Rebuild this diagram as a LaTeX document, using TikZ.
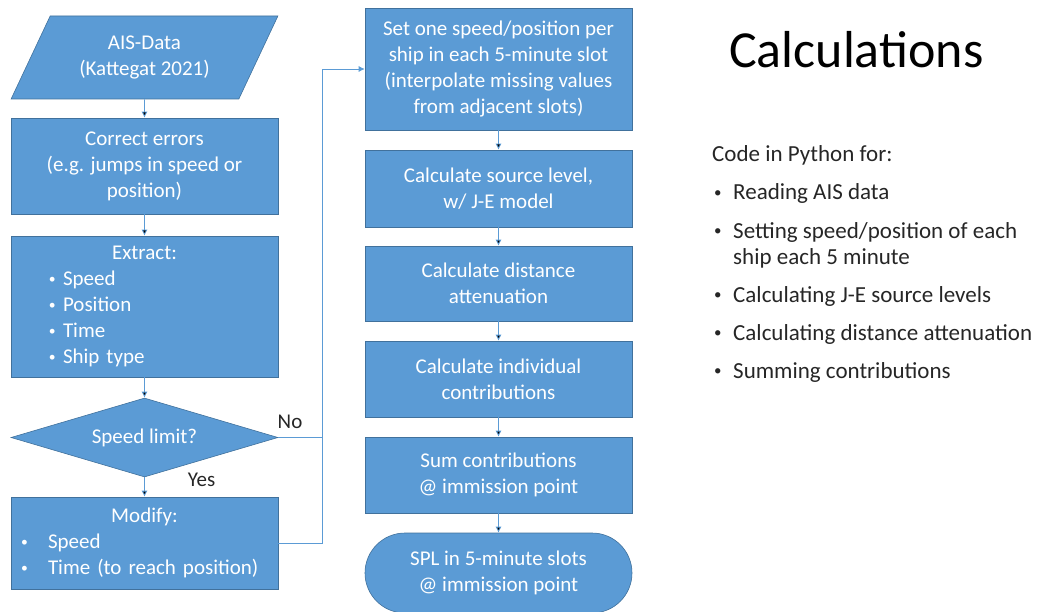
\documentclass[tikz,border=0pt]{standalone}
\usepackage{fontspec}
\setmainfont{Carlito}
\usetikzlibrary{arrows.meta}
\usetikzlibrary{shapes.geometric}
\usetikzlibrary{calc}
\definecolor{boxblue}{HTML}{5B9BD5}
\definecolor{boxline}{HTML}{41719C}
\definecolor{inktext}{HTML}{262626}
\newcommand{\smallbul}{\raisebox{0.12em}{\scalebox{0.65}{\textbullet}}}

\begin{document}
\begin{tikzpicture}[x=1pt,y=-1pt,>={Latex[length=6pt,width=6pt]},
    block/.style={draw=boxline,line width=0.6pt,fill=boxblue,text=white,
      minimum width=267pt,inner sep=0pt,align=center,
      font=\fontsize{21}{26}\selectfont},
    conn/.style={draw=boxblue,line width=0.8pt},
    lbl/.style={text=inktext,font=\fontsize{21}{26}\selectfont},
    bodytext/.style={text=inktext,anchor=base west,inner sep=0pt,
      font=\fontsize{23}{26}\selectfont}]
        \useasboundingbox (0,0) rectangle (1056,612);
        % left column
        \node[block,trapezium,trapezium left angle=58,trapezium right angle=122,
          trapezium stretches=true,minimum height=83pt] (ais) at (144.5,57.5)
          {AIS-Data\\(Kattegat 2021)};
        \node[block,minimum height=96pt] (correct) at (144.5,166)
          {Correct errors\\(e.g. jumps in speed or\\position)};
        \node[block,minimum height=141pt,text width=267pt,align=left] (extract) at (144.5,306.5)
          {\makebox[\linewidth]{Extract:}\\
           \hspace*{38pt}\makebox[14pt][l]{\smallbul}Speed\\
           \hspace*{38pt}\makebox[14pt][l]{\smallbul}Position\\
           \hspace*{38pt}\makebox[14pt][l]{\smallbul}Time\\
           \hspace*{38pt}\makebox[14pt][l]{\smallbul}Ship type};
        \node[block,diamond,aspect=3.4,minimum width=267pt,minimum height=79pt] (limit) at (144.5,437.5)
          {Speed limit?};
        \node[block,minimum height=92pt,text width=267pt,align=left] (modify) at (144.5,543)
          {\makebox[\linewidth]{Modify:}\\
           \hspace*{10pt}\makebox[27pt][l]{\smallbul}Speed\\
           \hspace*{10pt}\makebox[27pt][l]{\smallbul}Time (to reach position)};
        % middle column
        \node[block,minimum height=122pt] (setone) at (498.5,69)
          {Set one speed/position per\\ship in each 5-minute slot\\(interpolate missing values\\from adjacent slots)};
        \node[block,minimum height=77pt] (source) at (498.5,188.5)
          {Calculate source level,\\w/ J-E model};
        \node[block,minimum height=75pt] (atten) at (498.5,283.5)
          {Calculate distance\\attenuation};
        \node[block,minimum height=76pt] (contrib) at (498.5,379)
          {Calculate individual\\contributions};
        \node[block,minimum height=76pt] (sum) at (498.5,475)
          {Sum contributions\\@ immission point};
        \node[block,minimum height=80pt,rounded corners=40pt] (spl) at (498.5,573)
          {SPL in 5-minute slots\\@ immission point};
        \coordinate (join) at (322,437.5);
        \path[->,conn]
        (ais) edge (correct)
        (correct) edge (extract)
        (extract) edge (limit)
        (limit) edge (modify)
        (setone) edge (source)
        (source) edge (atten)
        (atten) edge (contrib)
        (contrib) edge (sum)
        (sum) edge (spl);
        \draw[->,conn] (limit.east) -- (join) |- (setone.west);
        \draw[conn] (modify.east) -| (join);
        \node[lbl] (no) at (290,421.5) {No};
        \node[lbl] (yes) at (201.5,480) {Yes};
        % right text
        \node[anchor=base west,inner sep=0pt,text=black,font=\fontsize{52}{60}\selectfont] (title) at (729,68) {Calculations};
        \node[bodytext] (intro) at (712,162) {Code in Python for:};
        \node[bodytext] (item1) at (714,200) {\makebox[19pt][l]{\smallbul}Reading AIS data};
        \node[bodytext] (item2) at (714,238) {\makebox[19pt][l]{\smallbul}Setting speed/position of each};
        \node[bodytext] (item2b) at (733,264) {ship each 5 minute};
        \node[bodytext] (item3) at (714,302) {\makebox[19pt][l]{\smallbul}Calculating J-E source levels};
        \node[bodytext] (item4) at (714,340) {\makebox[19pt][l]{\smallbul}Calculating distance attenuation};
        \node[bodytext] (item5) at (714,378) {\makebox[19pt][l]{\smallbul}Summing contributions};
    \end{tikzpicture}
\end{document}
